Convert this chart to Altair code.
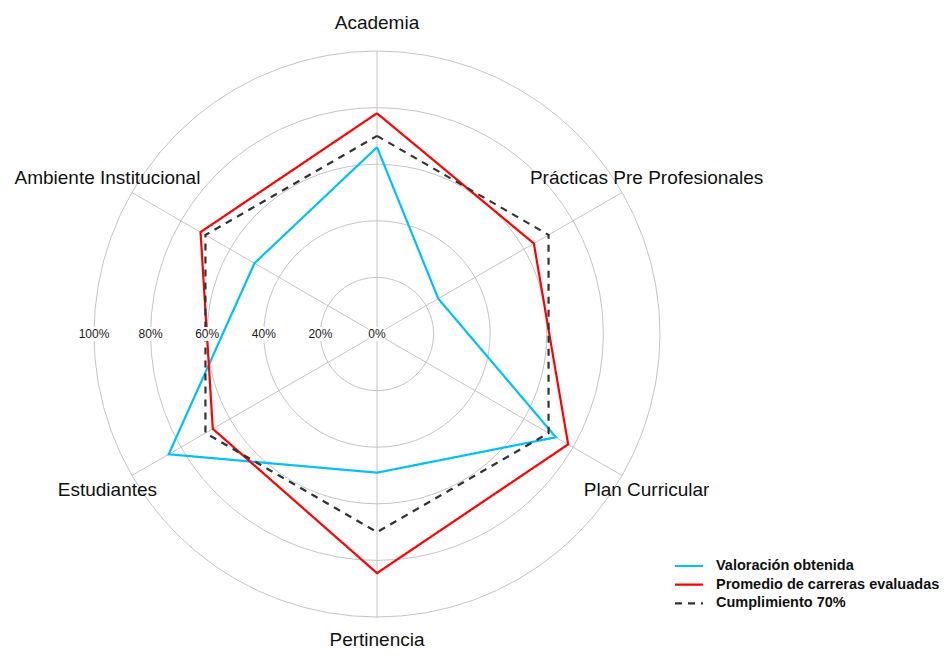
import altair as alt
import pandas as pd

# ---------------- data ----------------
categories = ["Academia", "Prácticas Pre Profesionales", "Plan Curricular",
              "Pertinencia", "Estudiantes", "Ambiente Institucional"]
series_names = ["Valoración obtenida", "Promedio de carreras evaluadas", "Cumplimiento 70%"]
valoracion = [66, 25, 73, 49, 85, 50]
promedio = [78, 64, 78, 84.5, 67, 72]
cumplimiento = [70, 70, 70, 70, 70, 70]
ring_levels = [20, 40, 60, 80, 100]
tick_values = [0, 20, 40, 60, 80, 100]
tick_labels = ["0%", "20%", "40%", "60%", "80%", "100%"]
series_colors = ["#00BFFF", "#FF0000", "#333333"]
series_dashes = [[1, 0], [1, 0], [7, 6]]

# ---------------- layout constants ----------------
W, H = 931, 642
K = 2.83           # px per percentage point
CX, CY = 369, 326  # centre in plot coordinates
xdom = [-CX / K, (W - CX) / K]
ydom = [-(H - CY) / K, CY / K]
FONT = "Liberation Sans"
N = len(categories)
LABEL_MIN_Y = -(H - CY - 10) / K   # keep bottom label inside the canvas

def X(field):
    return alt.X(field, type="quantitative",
                 scale=alt.Scale(domain=xdom, nice=False, zero=False), axis=None)

def Y(field):
    return alt.Y(field, type="quantitative",
                 scale=alt.Scale(domain=ydom, nice=False, zero=False), axis=None)

color_scale = alt.Scale(domain=series_names, range=series_colors)
dash_scale = alt.Scale(domain=series_names, range=series_dashes)

# polygons (closed)
rows = []
for s, vals in zip(series_names, [valoracion, promedio, cumplimiento]):
    for k in range(N + 1):
        rows.append({"serie": s, "cat": categories[k % N], "k": k % N, "ord": k, "v": vals[k % N]})
poly_df = pd.DataFrame(rows)

# grid rings
ring_rows = []
for lv in ring_levels:
    for st in range(73):
        ring_rows.append({"level": lv, "step": st})
ring_df = pd.DataFrame(ring_rows)

spoke_df = pd.DataFrame({"cat": categories, "k": list(range(N))})
tick_df = pd.DataFrame({"t": tick_labels, "val": tick_values})
legend_df = pd.DataFrame({"serie": series_names, "i": list(range(len(series_names)))})

rings = alt.Chart(ring_df).mark_line(color="#C4C4C4", strokeWidth=1).transform_calculate(
    x="datum.level*sin(2*PI*datum.step/72)",
    y="datum.level*cos(2*PI*datum.step/72)",
).encode(x=X("x"), y=Y("y"), detail="level:N", order="step:Q")

spokes = alt.Chart(spoke_df).mark_rule(color="#C4C4C4", strokeWidth=1).transform_calculate(
    x0="0", y0="0",
    x1=f"100*sin(2*PI*datum.k/{N})",
    y1=f"100*cos(2*PI*datum.k/{N})",
).encode(x=X("x0"), y=Y("y0"), x2="x1:Q", y2="y1:Q")

polys = alt.Chart(poly_df).mark_line(strokeWidth=2.2).transform_calculate(
    x=f"datum.v*sin(2*PI*datum.k/{N})",
    y=f"datum.v*cos(2*PI*datum.k/{N})",
).encode(
    x=X("x"), y=Y("y"),
    color=alt.Color("serie:N", scale=color_scale, legend=None),
    strokeDash=alt.StrokeDash("serie:N", scale=dash_scale, legend=None),
    detail="serie:N",
    order="ord:Q",
)

tick_boxes = alt.Chart(tick_df).mark_rect(color="white").transform_calculate(
    xa=f"-datum.val - (length(datum.t)*3.6+1)/{K}",
    xb=f"-datum.val + (length(datum.t)*3.6+1)/{K}",
    ya=f"-7/{K}",
    yb=f"7/{K}",
).encode(x=X("xa"), x2="xb:Q", y=Y("ya"), y2="yb:Q")

tick_text = alt.Chart(tick_df).mark_text(
    font=FONT, fontSize=12, color="#1A1A1A", align="center", baseline="middle"
).transform_calculate(xx="-datum.val", yy="0").encode(
    x=X("xx"), y=Y("yy"), text="t:N")

cat_text = alt.Chart(spoke_df).mark_text(
    font=FONT, fontSize=19, color="#111111", align="center", baseline="middle"
).transform_calculate(
    lx=f"110*sin(2*PI*datum.k/{N})",
    ly=f"max(110*cos(2*PI*datum.k/{N}), {LABEL_MIN_Y})",
).encode(x=X("lx"), y=Y("ly"), text="cat:N")

leg_lines = alt.Chart(legend_df).mark_rule(strokeWidth=2.2).transform_calculate(
    ly=f"{CY/K} - (558 + 18.7*datum.i)/{K}"
).encode(
    x=alt.value(667), x2=alt.value(695), y=Y("ly"),
    color=alt.Color("serie:N", scale=color_scale, legend=None),
    strokeDash=alt.StrokeDash("serie:N", scale=dash_scale, legend=None),
)

leg_text = alt.Chart(legend_df).mark_text(
    font=FONT, fontSize=14.5, fontWeight="bold", color="#111111",
    align="left", baseline="middle"
).transform_calculate(
    ly=f"{CY/K} - (558 + 18.7*datum.i)/{K}"
).encode(x=alt.value(708), y=Y("ly"), text="serie:N")

chart = alt.layer(
    rings, spokes, polys, tick_boxes, tick_text, cat_text, leg_lines, leg_text
).properties(
    width=W, height=H, padding=0, autosize=alt.AutoSizeParams(type="none")
).configure_view(stroke=None)

chart.save("out.html", embed_options={"renderer": "svg", "actions": False})
